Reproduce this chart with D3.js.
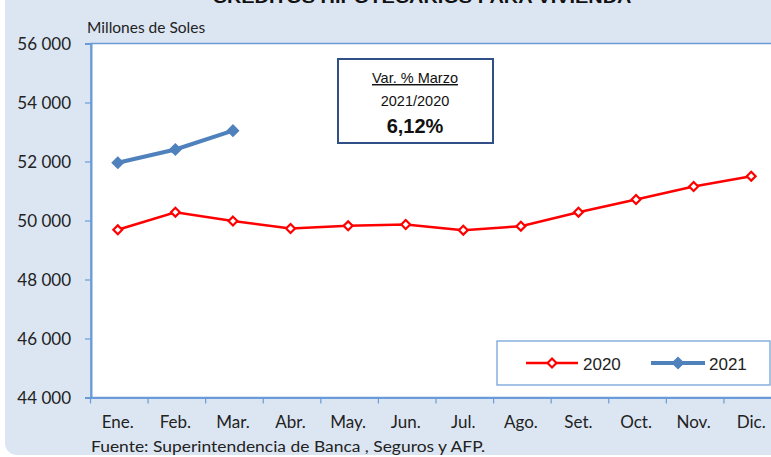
<!DOCTYPE html>
<html><head><meta charset="utf-8">
<script src="https://cdn.jsdelivr.net/npm/d3@7"></script>
<style>body{margin:0;background:#fff}svg{display:block}</style>
</head><body>
<script>
const months = ["Ene.","Feb.","Mar.","Abr.","May.","Jun.","Jul.","Ago.","Set.","Oct.","Nov.","Dic."];
const values2020 = [49685,50281,49980,49729,49820,49864,49671,49807,50281,50712,51153,51502];
const values2021 = [51956,52407,53045];
const yTicks = [44000,46000,48000,50000,52000,54000,56000];
const seriesNames = ["2020","2021"];
const title = "CRÉDITOS HIPOTECARIOS PARA VIVIENDA";
const unitLabel = "Millones de Soles";
const sourceText = "Fuente: Superintendencia de Banca , Seguros y AFP.";
const noteLines = ["Var. % Marzo","2021/2020","6,12%"];

const W=771,H=457;
const svg=d3.select("body").append("svg").attr("width",W).attr("height",H);
const axisColor="#6a9bd8";
const numFont="Lato, 'Open Sans', sans-serif";

// background panel
svg.append("rect").attr("x",5).attr("y",-20).attr("width",820).attr("height",475).attr("rx",12).attr("fill","#dce6f2");

// title (cut at the top)
svg.append("text").attr("x",422).attr("y",3).attr("text-anchor","middle")
  .attr("font-family","Arial, 'Liberation Sans', sans-serif").attr("font-weight","bold").attr("font-size",16)
  .attr("textLength",419).attr("lengthAdjust","spacingAndGlyphs").attr("fill","#111").text(title);

const x=d3.scaleBand().domain(months).range([89,780]).padding(0);
const y=d3.scaleLinear().domain([44000,56000]).range([397.5,43.5]);

// plot area
svg.append("rect").attr("x",91).attr("y",y(56000)).attr("width",700).attr("height",y(44000)-y(56000))
  .attr("fill","#fff").attr("stroke",axisColor).attr("stroke-width",1.5);

// y axis
const yAxis=svg.append("g").attr("transform","translate(91,0)")
  .call(d3.axisLeft(y).tickValues(yTicks).tickSize(6).tickFormat(d=>d3.format(",")(d).replace(","," ")));
yAxis.select(".domain").attr("stroke",axisColor).attr("stroke-width",2);
yAxis.selectAll(".tick line").attr("stroke",axisColor).attr("stroke-width",1.2);
yAxis.selectAll(".tick text").attr("font-family",numFont).attr("font-size",17).attr("fill","#222").attr("x",-20).attr("dy","0.35em");

// x axis
const xAxis=svg.append("g").attr("transform",`translate(0,${y(44000)})`)
  .call(d3.axisBottom(x).tickSize(0).tickPadding(15));
xAxis.select(".domain").attr("stroke",axisColor).attr("stroke-width",2);
xAxis.selectAll(".tick text").attr("font-family",numFont).attr("font-size",17).attr("fill","#222").attr("dy","0.9em");
// boundary ticks between categories
svg.append("g").selectAll("line").data(months).join("line")
  .attr("x1",d=>x(d)+1.5).attr("x2",d=>x(d)+1.5).attr("y1",y(44000)).attr("y2",y(44000)+6)
  .attr("stroke",axisColor).attr("stroke-width",1.2);

// unit label
svg.append("text").attr("x",87).attr("y",33).attr("font-family",numFont).attr("font-size",15.5).attr("fill","#222").text(unitLabel);

// source
svg.append("text").attr("x",91).attr("y",452).attr("font-family",numFont).attr("font-size",14.5)
  .attr("textLength",394).attr("lengthAdjust","spacingAndGlyphs").attr("fill","#222").text(sourceText);

const cx=(d,i)=>x(months[i])+x.bandwidth()/2;
const diamond=d3.symbol().type(d3.symbolDiamond2);

// 2020 series
const line=d3.line().x((d,i)=>cx(d,i)).y(d=>y(d));
svg.append("path").datum(values2020).attr("d",line).attr("fill","none").attr("stroke","#ff0000").attr("stroke-width",2.5);
svg.append("g").selectAll("path").data(values2020).join("path")
  .attr("d",diamond.size(50)).attr("transform",(d,i)=>`translate(${cx(d,i)},${y(d)})`)
  .attr("fill","#fff").attr("stroke","#ff0000").attr("stroke-width",2.2);

// 2021 series
svg.append("path").datum(values2021).attr("d",line).attr("fill","none").attr("stroke","#4f81bd").attr("stroke-width",4);
svg.append("g").selectAll("path").data(values2021).join("path")
  .attr("d",diamond.size(110)).attr("transform",(d,i)=>`translate(${cx(d,i)},${y(d)})`)
  .attr("fill","#4f81bd");

// annotation box
svg.append("rect").attr("x",338).attr("y",59).attr("width",155).attr("height",84).attr("fill","#fff")
  .attr("stroke","#2f4f86").attr("stroke-width",2);
const noteFont="Arial, 'Liberation Sans', sans-serif";
svg.append("text").attr("x",415).attr("y",83).attr("text-anchor","middle").attr("font-family",noteFont).attr("font-size",14.5)
  .attr("text-decoration","underline").attr("fill","#111").text(noteLines[0]);
svg.append("text").attr("x",415).attr("y",106).attr("text-anchor","middle").attr("font-family",noteFont).attr("font-size",14.5)
  .attr("fill","#111").text(noteLines[1]);
svg.append("text").attr("x",415).attr("y",133).attr("text-anchor","middle").attr("font-family",noteFont).attr("font-size",20)
  .attr("font-weight","bold").attr("fill","#111").text(noteLines[2]);

// legend
svg.append("rect").attr("x",497).attr("y",341).attr("width",273).attr("height",44).attr("fill","#fff")
  .attr("stroke",axisColor).attr("stroke-width",1.2);
const leg=[{name:seriesNames[0],x0:526,x1:578,tx:583,color:"#ff0000",sw:2.5,filled:false},
           {name:seriesNames[1],x0:651,x1:705,tx:709,color:"#4f81bd",sw:4,filled:true}];
leg.forEach(l=>{
  svg.append("line").attr("x1",l.x0).attr("x2",l.x1).attr("y1",363).attr("y2",363).attr("stroke",l.color).attr("stroke-width",l.sw);
  svg.append("path").attr("d",diamond.size(l.filled?110:50)).attr("transform",`translate(${(l.x0+l.x1)/2},363)`)
    .attr("fill",l.filled?l.color:"#fff").attr("stroke",l.filled?"none":l.color).attr("stroke-width",2.2);
  svg.append("text").attr("x",l.tx).attr("y",369.5).attr("font-family",noteFont).attr("font-size",17).attr("fill","#222").text(l.name);
});
</script>
</body></html>
